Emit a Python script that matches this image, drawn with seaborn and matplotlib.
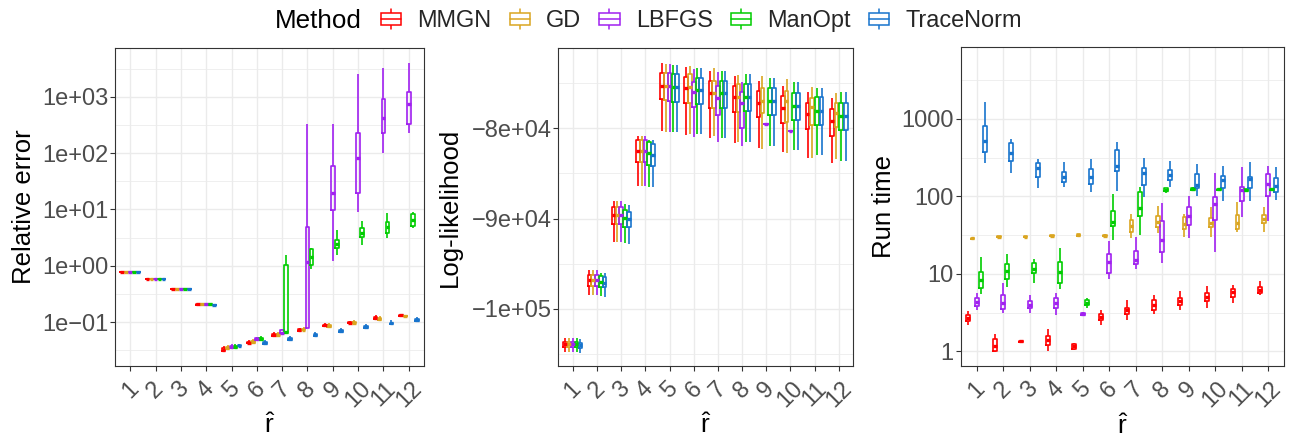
import numpy as np
import pandas as pd
import matplotlib
matplotlib.use("Agg")
import matplotlib.pyplot as plt
import seaborn as sns
from matplotlib.legend_handler import HandlerBase
from matplotlib.patches import Rectangle, Patch
from matplotlib.lines import Line2D

# ---------------- data (five-number summaries: min, q1, median, q3, max) ----------------
methods = ["MMGN", "GD", "LBFGS", "ManOpt", "TraceNorm"]
method_colors = ["#FF0000", "#DAA520", "#A020F0", "#00CD00", "#1874CD"]
r_labels = ["1", "2", "3", "4", "5", "6", "7", "8", "9", "10", "11", "12"]

# Relative error
relerr_MMGN = [[0.772, 0.776, 0.78, 0.783, 0.786], [0.575, 0.578, 0.58, 0.582, 0.585],
               [0.386, 0.388, 0.39, 0.392, 0.394], [0.203, 0.204, 0.206, 0.207, 0.209],
               [0.030, 0.031, 0.032, 0.034, 0.037], [0.041, 0.042, 0.043, 0.045, 0.049],
               [0.056, 0.057, 0.059, 0.061, 0.066], [0.069, 0.070, 0.072, 0.074, 0.080],
               [0.083, 0.084, 0.087, 0.090, 0.098], [0.094, 0.095, 0.097, 0.099, 0.104],
               [0.112, 0.114, 0.118, 0.122, 0.131], [0.128, 0.129, 0.131, 0.133, 0.136]]
relerr_GD = [[0.772, 0.776, 0.78, 0.783, 0.786], [0.575, 0.578, 0.58, 0.582, 0.585],
             [0.386, 0.388, 0.39, 0.392, 0.394], [0.203, 0.204, 0.206, 0.207, 0.209],
             [0.032, 0.033, 0.034, 0.036, 0.039], [0.042, 0.043, 0.044, 0.046, 0.050],
             [0.057, 0.058, 0.060, 0.062, 0.067], [0.070, 0.071, 0.073, 0.075, 0.081],
             [0.082, 0.083, 0.086, 0.089, 0.097], [0.093, 0.095, 0.098, 0.101, 0.111],
             [0.109, 0.111, 0.115, 0.119, 0.130], [0.124, 0.126, 0.128, 0.130, 0.134]]
relerr_LBFGS = [[0.772, 0.776, 0.78, 0.783, 0.786], [0.575, 0.578, 0.58, 0.582, 0.585],
                [0.386, 0.388, 0.39, 0.392, 0.394], [0.203, 0.204, 0.206, 0.207, 0.209],
                [0.034, 0.035, 0.036, 0.037, 0.040], [0.048, 0.049, 0.051, 0.053, 0.055],
                [0.062, 0.063, 0.065, 0.072, 0.074], [0.077, 0.080, 1.17, 4.9, 325],
                [1.23, 9.8, 19.8, 60, 325], [9.1, 19.8, 81, 230, 2500],
                [99, 224, 415, 925, 3200], [224, 324, 740, 1200, 4040]]
relerr_ManOpt = [[0.772, 0.776, 0.78, 0.783, 0.786], [0.575, 0.578, 0.58, 0.582, 0.585],
                 [0.386, 0.388, 0.39, 0.392, 0.394], [0.203, 0.204, 0.206, 0.207, 0.209],
                 [0.034, 0.035, 0.036, 0.037, 0.040], [0.048, 0.049, 0.051, 0.053, 0.056],
                 [0.062, 0.064, 0.066, 1.02, 1.55], [0.885, 1.03, 1.45, 1.95, 2.05],
                 [1.55, 2.04, 2.43, 2.86, 4.3], [2.33, 3.3, 3.85, 4.6, 6.3],
                 [3.15, 3.85, 4.9, 6.0, 8.7], [4.6, 5.1, 6.5, 8.3, 9.0]]
relerr_TraceNorm = [[0.765, 0.768, 0.77, 0.773, 0.776], [0.57, 0.573, 0.575, 0.578, 0.58],
                    [0.38, 0.382, 0.385, 0.387, 0.389], [0.198, 0.2, 0.202, 0.204, 0.206],
                    [0.036, 0.037, 0.038, 0.039, 0.041], [0.040, 0.041, 0.042, 0.044, 0.048],
                    [0.048, 0.049, 0.050, 0.052, 0.057], [0.056, 0.057, 0.059, 0.061, 0.067],
                    [0.065, 0.066, 0.069, 0.071, 0.078], [0.078, 0.080, 0.083, 0.085, 0.093],
                    [0.090, 0.092, 0.095, 0.098, 0.107], [0.104, 0.106, 0.110, 0.113, 0.125]]

# Log-likelihood
loglik_MMGN = [[-104770, -104220, -103940, -103660, -103220], [-98490, -97450, -96820, -96270, -95710],
               [-92570, -90610, -89620, -88770, -88030], [-86360, -83770, -82520, -81300, -80820],
               [-80300, -76790, -75270, -73900, -72720], [-80740, -77230, -75570, -74270, -73240],
               [-81110, -77710, -76050, -74720, -73650], [-81670, -78160, -76570, -75270, -74160],
               [-82150, -78780, -77160, -75830, -74720], [-82670, -79380, -77790, -76420, -75310],
               [-83330, -80110, -78410, -77160, -76010], [-83890, -80820, -79150, -77900, -76680]]
loglik_GD = [[-104770, -104220, -103940, -103660, -103220], [-98490, -97450, -96820, -96270, -95710],
             [-92570, -90610, -89620, -88770, -88030], [-86360, -83770, -82520, -81300, -80820],
             [-80370, -76860, -75270, -73900, -72870], [-80670, -77160, -75380, -74020, -73050],
             [-80820, -77710, -76050, -74720, -73350], [-81480, -78160, -76490, -75090, -74090],
             [-82300, -78270, -76970, -75490, -74160], [-82780, -79260, -76970, -75830, -74570],
             [-83330, -79630, -77600, -76680, -75380], [-83440, -79890, -78270, -77160, -76050]]
loglik_LBFGS = [[-104770, -104220, -103940, -103660, -103220], [-98490, -97450, -96820, -96270, -95710],
                [-92570, -90610, -89620, -88770, -88030], [-86360, -83770, -82520, -81300, -80820],
                [-80370, -76940, -75270, -73900, -72870], [-80930, -77600, -76010, -74830, -73460],
                [-81560, -78560, -76600, -75310, -73790], [-81960, -80000, -77230, -75940, -74900],
                [-79520, -79520, -79520, -79520, -79520], [-80300, -80300, -80300, -80300, -80300],
                None, None]
loglik_ManOpt = [[-104770, -104220, -103940, -103660, -103220], [-98600, -97560, -96990, -96380, -96010],
                 [-92750, -90910, -89950, -89060, -88400], [-86470, -84060, -82780, -81560, -81300],
                 [-80450, -77050, -75460, -74020, -72980], [-80670, -77340, -75750, -74380, -73350],
                 [-81040, -77710, -76120, -74750, -73650], [-81480, -78080, -76570, -75120, -74020],
                 [-81930, -78530, -76970, -75570, -74380], [-82410, -79080, -77530, -76120, -74900],
                 [-82960, -79630, -78050, -76570, -75490], [-83590, -80190, -78640, -77160, -75940]]
loglik_TraceNorm = [[-104880, -104330, -104050, -103770, -103330], [-98670, -97640, -97120, -96530, -96090],
                    [-92830, -90980, -90050, -89250, -88470], [-86540, -84150, -82960, -81740, -81300],
                    [-80450, -77050, -75460, -74020, -72980], [-80670, -77340, -75750, -74380, -73350],
                    [-81040, -77710, -76120, -74750, -73650], [-81480, -78080, -76570, -75120, -74020],
                    [-81930, -78530, -76970, -75570, -74380], [-82410, -79080, -77530, -76120, -74900],
                    [-82960, -79630, -78050, -76570, -75490], [-83590, -80190, -78640, -77160, -75940]]

# Run time
runtime_MMGN = [[2.21, 2.47, 2.70, 2.92, 3.32], [0.99, 1.01, 1.17, 1.42, 1.69],
                [1.32, 1.33, 1.35, 1.37, 1.38], [1.0, 1.22, 1.39, 1.56, 1.92],
                [1.05, 1.08, 1.16, 1.23, 1.26], [2.21, 2.51, 2.78, 3.07, 3.39],
                [2.57, 3.01, 3.39, 3.63, 4.56], [3.07, 3.46, 3.94, 4.56, 5.4],
                [3.46, 4.0, 4.48, 4.9, 5.97], [3.67, 4.48, 5.04, 5.68, 6.92],
                [4.22, 5.04, 5.74, 6.46, 7.28], [5.3, 5.68, 6.27, 6.8, 8.1]]
runtime_GD = [[27.8, 28.2, 28.6, 29.0, 29.3], [29.3, 29.7, 30.1, 30.5, 30.9],
              [29.2, 29.6, 30.0, 30.4, 30.8], [30.2, 30.6, 31.0, 31.4, 31.8],
              [30.2, 30.8, 31.6, 32.3, 33.0], [28.6, 30.5, 31.0, 31.6, 32.3],
              [28.6, 34.9, 41.7, 49.4, 59], [33.2, 39.8, 47, 55.7, 75.7],
              [30, 37.4, 43.9, 54.6, 60], [30, 39.8, 45.7, 52, 73.5],
              [34.9, 37.8, 45.7, 57.4, 85], [34.9, 45.6, 51, 57.4, 73.5]]
runtime_LBFGS = [[3.46, 3.8, 4.35, 4.9, 5.6], [3.16, 3.56, 4.2, 5.3, 7.65],
                 [3.16, 3.63, 4.0, 4.43, 5.3], [2.92, 3.63, 4.2, 4.9, 5.6],
                 [2.88, 2.95, 3.07, 3.12, 3.2], [8.7, 10.3, 14.3, 18, 26.7],
                 [11.4, 13.3, 15, 19.8, 29.5], [13.9, 19.2, 27.2, 48, 81],
                 [28.6, 42.6, 55.7, 72, 101], [19.2, 49.4, 79.5, 97, 202],
                 [54.6, 88, 121, 133, 237], [48, 102, 144, 192, 247]]
runtime_ManOpt = [[5.46, 6.65, 8.3, 10.6, 16.3], [6.8, 8.45, 10.9, 13.2, 18],
                  [7.7, 10.3, 11.7, 13.6, 15.5], [6.46, 7.65, 10.6, 14.3, 21.7],
                  [3.63, 3.94, 4.2, 4.56, 4.9], [27.2, 41.7, 47, 65, 107],
                  [31.6, 56, 71, 115, 131], [112, 116, 122, 127, 130],
                  [117, 121, 125, 129, 131], [119, 121, 123, 126, 128],
                  [117, 119, 121, 123, 125], [119, 121, 123, 125, 127]]
runtime_TraceNorm = [[267, 371, 520, 820, 1640], [198, 289, 367, 494, 546],
                     [127, 180, 230, 272, 304], [131, 155, 180, 208, 281],
                     [115, 144, 180, 223, 301], [118, 215, 247, 398, 509],
                     [99, 140, 198, 230, 310], [131, 163, 189, 219, 289],
                     [101, 127, 140, 194, 259], [88, 129, 163, 185, 247],
                     [88, 127, 168, 180, 275], [91, 114, 137, 173, 237]]

relerr_ticks = [0.1, 1, 10, 100, 1000]
relerr_ticklabels = ["1e\u221201", "1e+00", "1e+01", "1e+02", "1e+03"]
loglik_ticks = [-100000, -90000, -80000]
loglik_ticklabels = ["\u22121e+05", "\u22129e+04", "\u22128e+04"]
runtime_ticks = [1, 10, 100, 1000]
runtime_ticklabels = ["1", "10", "100", "1000"]


def long_frame(tables):
    rows = []
    for m, tab in zip(methods, tables):
        for r, stats in zip(r_labels, tab):
            if stats is None:
                continue
            for v in stats:
                rows.append((r, m, v))
    return pd.DataFrame(rows, columns=["r", "Method", "value"])


df_relerr = long_frame([relerr_MMGN, relerr_GD, relerr_LBFGS, relerr_ManOpt, relerr_TraceNorm])
df_loglik = long_frame([loglik_MMGN, loglik_GD, loglik_LBFGS, loglik_ManOpt, loglik_TraceNorm])
df_runtime = long_frame([runtime_MMGN, runtime_GD, runtime_LBFGS, runtime_ManOpt, runtime_TraceNorm])

# ---------------- style ----------------
sns.set_theme(style="ticks")
plt.rcParams["font.family"] = ["Liberation Sans", "DejaVu Sans"]
plt.rcParams["mathtext.fontset"] = "custom"
plt.rcParams["mathtext.rm"] = "Liberation Sans"
plt.rcParams["mathtext.it"] = "Liberation Sans:italic"
plt.rcParams["mathtext.bf"] = "Liberation Sans:bold"

W, H = 1289, 443
fig = plt.figure(figsize=(W / 100, H / 100), dpi=100)


def rect(left, right, top, bottom):
    return [left / W, 1 - bottom / H, (right - left) / W, (bottom - top) / H]


panels = [
    dict(df=df_relerr, rect=rect(115, 424, 48, 366), log=True, ylim=(0.0166, 7330),
         ticks=relerr_ticks, labels=relerr_ticklabels,
         minor=[10 ** -1.5, 10 ** -0.5, 10 ** 0.5, 10 ** 1.5, 10 ** 2.5, 10 ** 3.5],
         ylabel="Relative error", ylx=-0.257),
    dict(df=df_loglik, rect=rect(558.3, 853.3, 48.3, 366), log=False, ylim=(-106350, -71130),
         ticks=loglik_ticks, labels=loglik_ticklabels,
         minor=[-105000, -95000, -85000, -75000],
         ylabel="Log-likelihood", ylx=-0.326),
    dict(df=df_runtime, rect=rect(960.7, 1284, 47.3, 366), log=True, ylim=(0.645, 8430),
         ticks=runtime_ticks, labels=runtime_ticklabels,
         minor=[10 ** 0.5, 10 ** 1.5, 10 ** 2.5, 10 ** 3.5],
         ylabel="Run time", ylx=-0.2),
]

grid_col = "#EBEBEB"
dark = "#333333"
box_kw = dict(x="r", y="value", hue="Method", order=r_labels, fill=False, width=0.78,
              whis=(0, 100), linewidth=1.2, showcaps=False,
              medianprops=dict(linewidth=2.4), legend=False)

for p in panels:
    ax = fig.add_axes(p["rect"])
    if p["log"]:
        ax.set_yscale("log")
    df = p["df"]
    # dodge like ggplot's position_dodge2: at each r only the methods present share the width
    present = df.groupby("r")["Method"].apply(lambda s: tuple(m for m in methods if m in set(s)))
    for combo in sorted(set(present.values), key=len, reverse=True):
        rs = [r for r in r_labels if present.get(r) == combo]
        sub = df[df["r"].isin(rs)]
        k = len(combo)
        sns.boxplot(data=sub, hue_order=list(combo),
                    palette=[method_colors[methods.index(m)] for m in combo],
                    gap=1 - 0.95 * k / 5, ax=ax, **box_kw)
    ax.set_xlim(-0.6, 11.6)
    ax.set_ylim(*p["ylim"])
    ax.set_yticks(p["ticks"], p["labels"])
    ax.set_yticks(p["minor"], minor=True)
    ax.set_yticklabels([], minor=True)
    ax.set_xticks(range(len(r_labels)), r_labels, rotation=45, ha="center", va="top")
    ax.set_axisbelow(True)
    ax.grid(True, which="major", axis="both", color=grid_col, linewidth=1.0)
    ax.grid(True, which="minor", axis="y", color=grid_col, linewidth=0.55)
    ax.tick_params(axis="both", which="major", length=3.5, width=0.8, color=dark,
                   labelcolor="#4D4D4D", labelsize=17)
    ax.tick_params(axis="y", which="major", pad=1.5)
    ax.tick_params(axis="x", which="major", pad=5)
    ax.tick_params(axis="both", which="minor", length=0)
    for s in ax.spines.values():
        s.set_visible(True)
        s.set_color(dark)
        s.set_linewidth(0.8)
    ax.set_ylabel(p["ylabel"], fontsize=18.5, color="black")
    ax.yaxis.set_label_coords(p["ylx"], 0.5)
    ax.set_xlabel(r"$\hat{\mathrm{r}}$", fontsize=19, color="black")
    ax.xaxis.set_label_coords(0.5, -0.15)


# ---------------- legend ----------------
class BoxKeyHandler(HandlerBase):
    def create_artists(self, legend, orig_handle, xdescent, ydescent, width, height,
                       fontsize, trans):
        c = orig_handle.get_edgecolor()
        x0, y0 = -xdescent, -ydescent
        whisk = Line2D([x0 + width / 2, x0 + width / 2], [y0, y0 + height],
                       color=c, lw=1.1, transform=trans)
        box = Rectangle((x0, y0 + 0.2 * height), width, 0.6 * height, facecolor="white",
                        edgecolor=c, lw=1.1, transform=trans)
        med = Line2D([x0, x0 + width], [y0 + height / 2, y0 + height / 2],
                     color=c, lw=1.1, transform=trans)
        return [whisk, box, med]


handles = [Patch(facecolor="white", edgecolor=c) for c in method_colors]
fig.text(275 / W, 1 - 20.6 / H, "Method", ha="left", va="center", fontsize=18.7, color="black")
fig.legend(handles, methods, handler_map={Patch: BoxKeyHandler()}, ncol=5,
           loc="center left", bbox_to_anchor=(380.7 / W, 1 - 20.6 / H), frameon=False,
           fontsize=16.9, handlelength=0.86, handleheight=0.9, handletextpad=0.69,
           columnspacing=0.78, borderpad=0, borderaxespad=0)

fig.savefig("out.png", dpi=100, facecolor="white")
